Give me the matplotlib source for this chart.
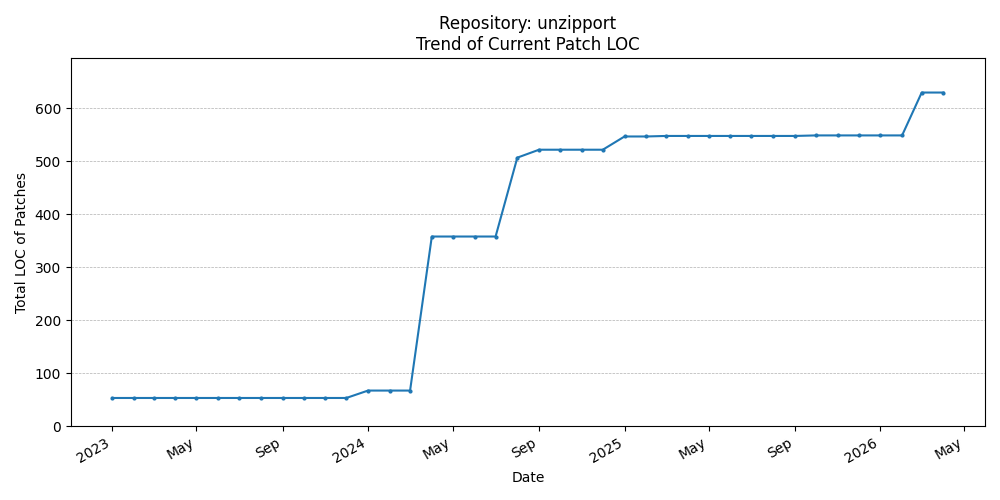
import pandas as pd
import matplotlib.pyplot as plt
import matplotlib.dates as mdates

# Monthly snapshots, Jan 2023 .. Apr 2026
dates = pd.date_range("2023-01-01", "2026-04-01", freq="MS")
loc_2023 = [53] * 12
loc_2024 = [67, 67, 67, 358, 358, 358, 358, 507, 522, 522, 522, 522]
loc_2025 = [547, 547, 548, 548, 548, 548, 548, 548, 548, 549, 549, 549]
loc_2026 = [549, 549, 630, 630]
loc_values = loc_2023 + loc_2024 + loc_2025 + loc_2026

fig, ax = plt.subplots(figsize=(10, 5))
ax.plot(dates, loc_values, marker="o", markersize=2, color="#1f77b4")
ax.set_title("Repository: unzipport\nTrend of Current Patch LOC")
ax.set_xlabel("Date")
ax.set_ylabel("Total LOC of Patches")
ax.set_ylim(0, 695)
ax.grid(axis="y", linestyle="--", linewidth=0.5)

ax.xaxis.set_major_locator(mdates.MonthLocator(bymonth=[1, 5, 9]))
ax.xaxis.set_major_formatter(
    plt.FuncFormatter(lambda x, p: mdates.num2date(x).strftime("%Y" if mdates.num2date(x).month == 1 else "%b"))
)
fig.autofmt_xdate()
plt.tight_layout()
plt.savefig("out.png", dpi=100)
